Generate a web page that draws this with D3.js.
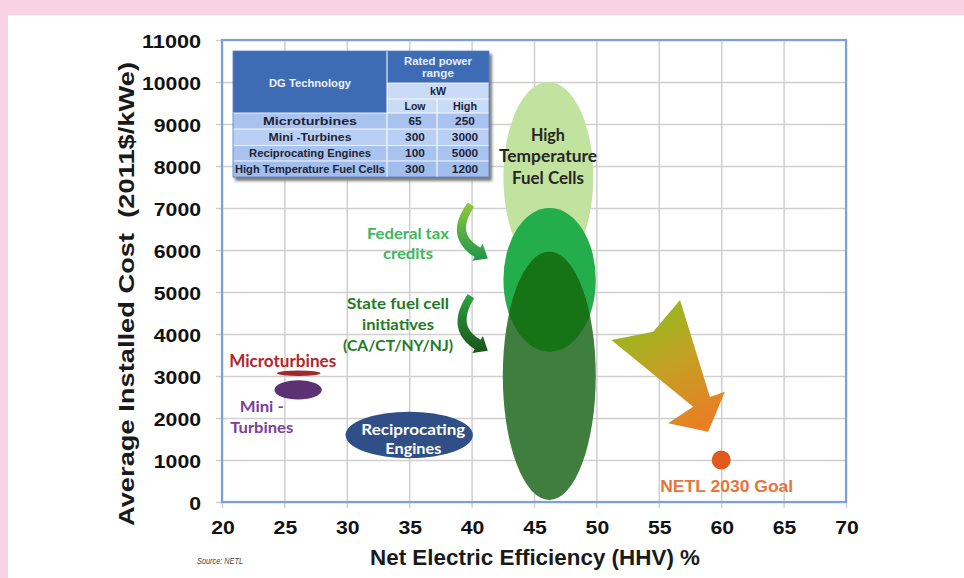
<!DOCTYPE html>
<html><head><meta charset="utf-8">
<script src="https://cdn.jsdelivr.net/npm/d3@7"></script>
<style>
body{margin:0;background:#fff}
svg{display:block}
</style>
</head><body>
<svg id="chart" width="964" height="578"></svg>
<script>
// ---- Axis ticks ----
const effTicks = [20, 25, 30, 35, 40, 45, 50, 55, 60, 65, 70];
const costTicks = [0, 1000, 2000, 3000, 4000, 5000, 6000, 7000, 8000, 9000, 10000, 11000];

// ---- Technology bubbles: efficiency range (% HHV) and installed cost range (2011$/kWe) ----
const bubbleNames = ["Microturbines", "Mini-Turbines", "Reciprocating Engines",
  "HTFC today", "HTFC with federal tax credits", "HTFC with state initiatives"];
const effLow   = [24.4, 24.2, 29.9, 42.55, 42.55, 42.5];
const effHigh  = [27.9, 28.0, 40.1, 49.75, 49.95, 49.95];
const costLow  = [3000, 2440, 1040, 5480, 3580, 50];
const costHigh = [3130, 2900, 2150, 10000, 7000, 5960];

// ---- NETL 2030 goal ----
const goalEff = [60];
const goalCost = [1000];

// ---- Rated power range table (kW) ----
const dgTech = ["Microturbines", "Mini -Turbines", "Reciprocating Engines", "High Temperature Fuel Cells"];
const kwLow = [65, 300, 100, 300];
const kwHigh = [250, 3000, 5000, 1200];

// ---- Trend arrow towards the goal (efficiency %, cost) ----
const trendArrow = [[51.2, 3860], [54.55, 4055], [56.7, 4810], [59.1, 2500],
  [60.3, 2625], [58.95, 1675], [55.75, 1875], [57.75, 2270]];

// ---- Incentive arrows: start, bend, tip (efficiency %, cost) ----
const federalArrow = [[39.95, 7080], [38.2, 6350], [41.3, 5800]];
const stateArrow   = [[39.95, 4900], [38.3, 4150], [41.3, 3600]];

// ---------------------------------------------------------------
const bubbleFill = ["#9f2a2d", "#5d3272", "#2f4f86", "#c2e29f", "#23ad4b", "#3f7e3f"];
const W = 964, H = 578;
const svg = d3.select("#chart");
const defs = svg.append("defs");

// stretch a text element horizontally to a given rendered width
const fit = (sel, w) => sel.attr("textLength", w).attr("lengthAdjust", "spacingAndGlyphs");

// page frame
svg.append("rect").attr("width", W).attr("height", H).attr("fill", "#f9d3e3");
svg.append("rect").attr("x", 8).attr("y", 15).attr("width", W - 8).attr("height", H - 15).attr("fill", "#fff");

const x = d3.scaleLinear().domain([20, 70]).range([222, 846]);
const y = d3.scaleLinear().domain([0, 11000]).range([502, 40]);

// grid
const grid = svg.append("g");
grid.append("g").attr("transform", `translate(0,${y(0)})`)
  .call(d3.axisBottom(x).tickValues(effTicks).tickSize(-(y(0) - y(11000)) - 6).tickFormat(""))
  .call(g => g.select(".domain").remove())
  .call(g => g.selectAll("line").attr("stroke", "#cfcfcf").attr("stroke-width", 1.5).attr("transform", "translate(0,6)"));
grid.append("g").attr("transform", `translate(${x(20)},0)`)
  .call(d3.axisLeft(y).tickValues(costTicks).tickSize(-(x(70) - x(20)) - 6).tickFormat(""))
  .call(g => g.select(".domain").remove())
  .call(g => g.selectAll("line").attr("stroke", "#cfcfcf").attr("stroke-width", 1.5).attr("transform", "translate(-6,0)"));

// plot frame
svg.append("rect").attr("x", x(20)).attr("y", y(11000))
  .attr("width", x(70) - x(20)).attr("height", y(0) - y(11000))
  .attr("fill", "none").attr("stroke", "#7da1d7").attr("stroke-width", 2.2);

// tick labels
const tickFont = "'Liberation Sans', Arial, sans-serif";
svg.append("g").selectAll("text").data(costTicks).join("text")
  .attr("x", 201).attr("y", d => y(d) + 1).attr("dy", "0.36em")
  .attr("text-anchor", "end").attr("font-family", tickFont).attr("font-weight", "bold")
  .attr("font-size", 19).attr("fill", "#111").text(d => d)
  .each(function (d) { fit(d3.select(this), String(d).length * 11.8); });
svg.append("g").selectAll("text").data(effTicks).join("text")
  .attr("x", d => x(d) + 1).attr("y", 534)
  .attr("text-anchor", "middle").attr("font-family", tickFont).attr("font-weight", "bold")
  .attr("font-size", 19).attr("fill", "#111").text(d => d)
  .each(function (d) { fit(d3.select(this), String(d).length * 11.8); });

// axis titles
fit(svg.append("text").attr("x", 535).attr("y", 565).attr("text-anchor", "middle")
  .attr("font-family", tickFont).attr("font-size", 21.5).attr("font-weight", "bold").attr("fill", "#1a1a1a")
  .text("Net Electric Efficiency (HHV) %"), 330);
fit(svg.append("text").attr("transform", "translate(134,294) rotate(-90)").attr("text-anchor", "middle")
  .attr("font-family", tickFont).attr("font-size", 22.5).attr("font-weight", "bold").attr("fill", "#1a1a1a")
  .attr("xml:space", "preserve")
  .text("Average Installed Cost  (2011$/kWe)"), 464);
fit(svg.append("text").attr("x", 197).attr("y", 564)
  .attr("font-family", "'Liberation Sans Narrow', 'Liberation Sans', sans-serif").attr("font-style", "italic")
  .attr("font-size", 9.5).attr("fill", "#444").text("Source: NETL"), 46);

// ---- rated power table ----
const tb = svg.append("g");
const tX = [233, 387, 437, 489];
const tY = [51, 83, 99, 113, 129, 145.5, 161, 177];
const shadow = defs.append("filter").attr("id", "tshadow").attr("x", "-10%").attr("y", "-10%").attr("width", "120%").attr("height", "130%");
shadow.append("feGaussianBlur").attr("stdDeviation", 1.6);
tb.append("rect").attr("x", tX[0] + 2).attr("y", tY[0] + 3).attr("width", tX[3] - tX[0] + 1).attr("height", tY[7] - tY[0] + 1)
  .attr("fill", "#7c7c7c").attr("filter", "url(#tshadow)");
tb.append("rect").attr("x", tX[0]).attr("y", tY[0]).attr("width", tX[1] - tX[0]).attr("height", tY[3] - tY[0]).attr("fill", "#3e6cb4");
tb.append("rect").attr("x", tX[1]).attr("y", tY[0]).attr("width", tX[3] - tX[1]).attr("height", tY[1] - tY[0]).attr("fill", "#3e6cb4");
tb.append("rect").attr("x", tX[1]).attr("y", tY[1]).attr("width", tX[3] - tX[1]).attr("height", tY[3] - tY[1]).attr("fill", "#c9dbf6");
const rowFill = ["#a9c3ee", "#b9cff3", "#a9c3ee", "#a0bdec"];
dgTech.forEach((name, i) => {
  tb.append("rect").attr("x", tX[0]).attr("y", tY[3 + i]).attr("width", tX[3] - tX[0]).attr("height", tY[4 + i] - tY[3 + i]).attr("fill", rowFill[i]);
});
// cell borders
const bl = tb.append("g").attr("stroke", "#ffffff").attr("stroke-width", 1.2).attr("opacity", 0.85);
bl.append("line").attr("x1", tX[1]).attr("x2", tX[1]).attr("y1", tY[0]).attr("y2", tY[7]);
bl.append("line").attr("x1", tX[2]).attr("x2", tX[2]).attr("y1", tY[2]).attr("y2", tY[7]);
[1, 2].forEach(k => bl.append("line").attr("x1", tX[1]).attr("x2", tX[3]).attr("y1", tY[k]).attr("y2", tY[k]));
[3, 4, 5, 6].forEach(k => bl.append("line").attr("x1", tX[0]).attr("x2", tX[3]).attr("y1", tY[k]).attr("y2", tY[k]));
tb.append("rect").attr("x", tX[0]).attr("y", tY[0]).attr("width", tX[3] - tX[0]).attr("height", tY[7] - tY[0])
  .attr("fill", "none").attr("stroke", "#5a82c2").attr("stroke-width", 0.8);

const tcell = (tx, ty, s, col, w) => {
  const t = tb.append("text").attr("x", tx).attr("y", ty).attr("dy", "0.35em")
    .attr("text-anchor", "middle").attr("font-family", tickFont).attr("font-weight", "bold")
    .attr("font-size", 10).attr("fill", col).text(s);
  if (w) fit(t, w);
  return t;
};
const nameW = [94, 83, 122, 150];
tcell(310, 83, "DG Technology", "#eef3fb", 82);
tcell(438, 61.5, "Rated power", "#e6eefa", 68);
tcell(438, 73.5, "range", "#e6eefa", 32);
tcell(438, 91.5, "kW", "#1d2333", 16);
tcell(415, 106.5, "Low", "#1d2333", 21);
tcell(465, 106.5, "High", "#1d2333", 24);
dgTech.forEach((name, i) => {
  const cy = (tY[3 + i] + tY[4 + i]) / 2;
  tcell(310, cy, name, "#1d2333", nameW[i]);
  tcell(415, cy, kwLow[i], "#1d2333", String(kwLow[i]).length * 6.6);
  tcell(465, cy, kwHigh[i], "#1d2333", String(kwHigh[i]).length * 6.6);
});

// ---- bubbles ----
const ell = i => ({
  cx: x((effLow[i] + effHigh[i]) / 2), cy: y((costLow[i] + costHigh[i]) / 2),
  rx: (x(effHigh[i]) - x(effLow[i])) / 2, ry: (y(costLow[i]) - y(costHigh[i])) / 2
});
const bubbles = svg.append("g");
bubbleNames.forEach((n, i) => {
  const e = ell(i);
  bubbles.append("ellipse").attr("cx", e.cx).attr("cy", e.cy).attr("rx", e.rx).attr("ry", e.ry)
    .attr("fill", bubbleFill[i]);
});
// overlap of the two incentive scenarios
const lo = ell(5), mid = ell(4);
defs.append("clipPath").attr("id", "stateClip").append("ellipse")
  .attr("cx", lo.cx).attr("cy", lo.cy).attr("rx", lo.rx).attr("ry", lo.ry);
bubbles.append("ellipse").attr("cx", mid.cx).attr("cy", mid.cy).attr("rx", mid.rx).attr("ry", mid.ry)
  .attr("fill", "#167316").attr("clip-path", "url(#stateClip)");

// goal point
svg.append("g").selectAll("circle").data(goalEff).join("circle")
  .attr("cx", d => x(d)).attr("cy", (d, i) => y(goalCost[i])).attr("r", 9.5).attr("fill", "#e05a1c");

// ---- trend arrow ----
const tg = defs.append("linearGradient").attr("id", "trendGrad").attr("gradientUnits", "userSpaceOnUse")
  .attr("x1", x(53)).attr("y1", y(4900)).attr("x2", x(59)).attr("y2", y(1700));
tg.append("stop").attr("offset", 0).attr("stop-color", "#86c01c");
tg.append("stop").attr("offset", 0.5).attr("stop-color", "#c3a123");
tg.append("stop").attr("offset", 1).attr("stop-color", "#ee7a25");
svg.append("path").attr("d", d3.line().x(d => x(d[0])).y(d => y(d[1])).curve(d3.curveLinearClosed)(trendArrow))
  .attr("fill", "url(#trendGrad)");

// ---- curved incentive arrows ----
function curvedArrow(pts, id, c0, c1) {
  const P = pts.map(p => [x(p[0]), y(p[1])]);
  const [S, C, T] = P;
  const dx = T[0] - C[0], dy = T[1] - C[1], dl = Math.hypot(dx, dy);
  const d = [dx / dl, dy / dl];
  const headLen = 12, headHalf = 10;
  const E = [T[0] - d[0] * headLen, T[1] - d[1] * headLen];
  const left = [], right = [];
  const N = 24;
  for (let k = 0; k <= N; k++) {
    const t = k / N, u = 1 - t;
    const bx = u * u * S[0] + 2 * u * t * C[0] + t * t * E[0];
    const by = u * u * S[1] + 2 * u * t * C[1] + t * t * E[1];
    const tx = 2 * u * (C[0] - S[0]) + 2 * t * (E[0] - C[0]);
    const ty = 2 * u * (C[1] - S[1]) + 2 * t * (E[1] - C[1]);
    const tl = Math.hypot(tx, ty);
    const nx = -ty / tl, ny = tx / tl;
    const w = 3.8 + 1.8 * t;
    left.push([bx + nx * w, by + ny * w]);
    right.push([bx - nx * w, by - ny * w]);
  }
  const nx = -d[1], ny = d[0];
  const outline = left.concat([[E[0] + nx * headHalf, E[1] + ny * headHalf], T, [E[0] - nx * headHalf, E[1] - ny * headHalf]], right.reverse());
  const g = defs.append("linearGradient").attr("id", id).attr("gradientUnits", "userSpaceOnUse")
    .attr("x1", 0).attr("x2", 0).attr("y1", S[1]).attr("y2", T[1]);
  g.append("stop").attr("offset", 0).attr("stop-color", c0);
  g.append("stop").attr("offset", 1).attr("stop-color", c1);
  svg.append("path").attr("d", d3.line().curve(d3.curveLinearClosed)(outline)).attr("fill", `url(#${id})`);
}
curvedArrow(federalArrow, "fedGrad", "#8dc63f", "#23984a");
curvedArrow(stateArrow, "stateGrad", "#2d9f3f", "#1b561b");

// ---- annotations ----
const labelFont = "Lato, 'Open Sans', sans-serif";
function label(lines, widths, ex, cost, col, size, gap) {
  const t = svg.append("text").attr("text-anchor", "middle").attr("font-family", labelFont)
    .attr("font-weight", "bold").attr("font-size", size).attr("fill", col);
  lines.forEach((s, k) => fit(t.append("tspan").attr("x", x(ex)).attr("y", y(cost) + k * gap).attr("dy", "0.35em").text(s), widths[k]));
  return t;
}
label(["Microturbines"], [107], 24.86, 3340, "#b0262e", 16.5, 0);
label(["Mini -", "Turbines"], [44, 63], 23.18, 2269, "#7b3d9b", 16, 20.6);
label(["Reciprocating", "Engines"], [104, 56], 35.33, 1731, "#ffffff", 16, 19);
label(["High", "Temperature", "Fuel Cells"], [34, 98, 72], 46.12, 8738, "#262626", 16.5, 21.6);
label(["Federal tax", "credits"], [82, 50], 34.9, 6398, "#3db75e", 16, 20);
label(["State fuel cell", "initiatives", "(CA/CT/NY/NJ)"], [102, 72, 110], 34.1, 4731, "#237a27", 16, 21);
fit(svg.append("text").attr("x", x(60.44)).attr("y", y(364)).attr("dy", "0.35em").attr("text-anchor", "middle")
  .attr("font-family", tickFont).attr("font-weight", "bold").attr("font-size", 16).attr("fill", "#e8743a")
  .text("NETL 2030 Goal"), 133);
</script>
</body></html>
